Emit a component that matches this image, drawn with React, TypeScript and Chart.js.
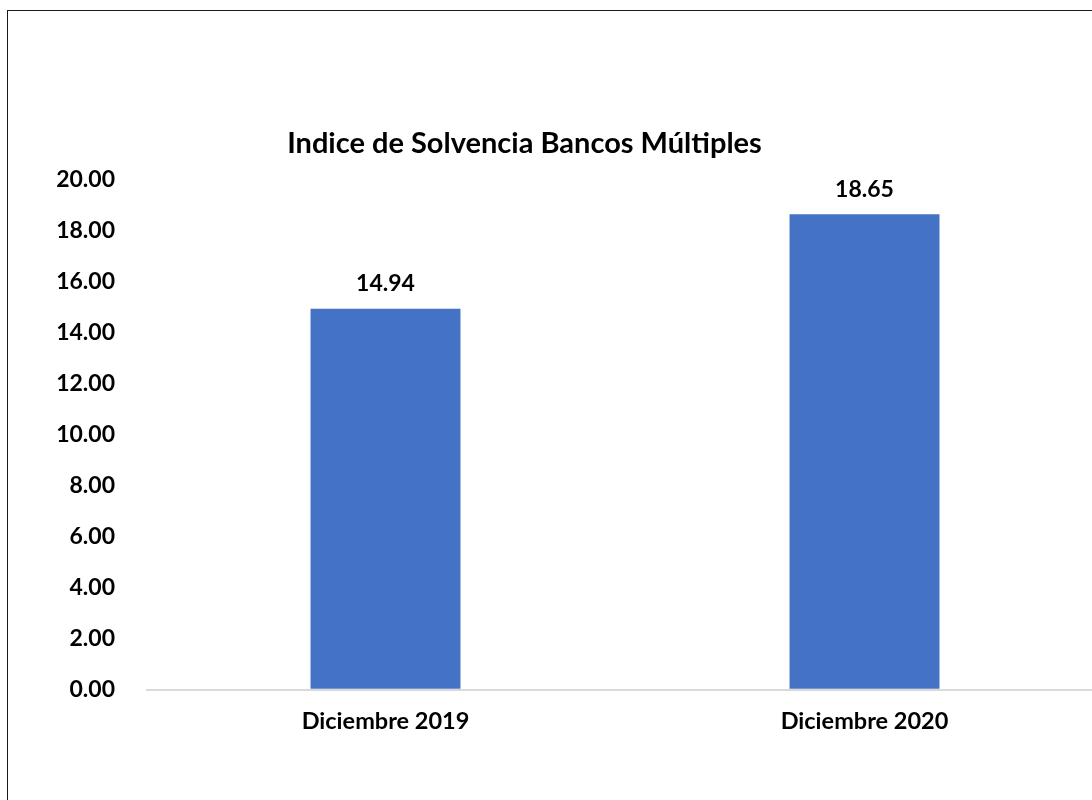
import React, { useEffect, useRef } from "react";
import { Chart, registerables } from "chart.js";

Chart.register(...registerables);

const chartTitle = "Indice de Solvencia Bancos Múltiples";
const categories = ["Diciembre 2019", "Diciembre 2020"];
const solvencia = [14.94, 18.65];
const yMin = 0;
const yMax = 20;
const yStep = 2;

const FONT = "Lato, 'Open Sans', sans-serif";
const BAR_COLOR = "#4472C4";
const TEXT_COLOR = "#000000";

const valueLabels = {
  id: "valueLabels",
  afterDatasetsDraw(chart: any) {
    const ctx = chart.ctx;
    ctx.save();
    ctx.font = `bold 23px ${FONT}`;
    ctx.fillStyle = TEXT_COLOR;
    ctx.textAlign = "center";
    ctx.textBaseline = "alphabetic";
    chart.data.datasets.forEach((ds: any, di: number) => {
      const meta = chart.getDatasetMeta(di);
      meta.data.forEach((bar: any, i: number) => {
        const v = ds.data[i] as number;
        ctx.fillText(v.toFixed(2), bar.x, bar.y - 17.5);
      });
    });
    ctx.restore();
  },
};

export default function App() {
  const ref = useRef<HTMLCanvasElement | null>(null);

  useEffect(() => {
    if (!ref.current) return;
    const chart = new Chart(ref.current, {
      type: "bar",
      data: {
        labels: categories,
        datasets: [
          {
            label: chartTitle,
            data: solvencia,
            backgroundColor: BAR_COLOR,
            borderWidth: 0,
            categoryPercentage: 1,
            barPercentage: 0.313,
          },
        ],
      },
      options: {
        responsive: false,
        animation: false,
        devicePixelRatio: 1,
        layout: { padding: { top: 126, bottom: 46, left: 0, right: 0 } },
        plugins: {
          legend: { display: false },
          tooltip: { enabled: false },
          title: {
            display: true,
            text: chartTitle,
            color: TEXT_COLOR,
            font: { family: FONT, size: 29, weight: "bold", lineHeight: 1.2 },
            padding: { top: 0, bottom: 19 },
          },
        },
        scales: {
          x: {
            grid: { display: false, drawTicks: false },
            border: { display: false },
            ticks: {
              color: TEXT_COLOR,
              padding: 18,
              font: { family: FONT, size: 23.5, weight: "bold", lineHeight: 1.2 },
            },
          },
          y: {
            min: yMin,
            max: yMax,
            afterFit: (scale: any) => {
              scale.width = 201;
            },
            grid: {
              drawTicks: false,
              lineWidth: 2,
              color: (c: any) => (c.tick && c.tick.value === 0 ? "#D9D9D9" : "rgba(0,0,0,0)"),
            },
            border: { display: false },
            ticks: {
              stepSize: yStep,
              color: TEXT_COLOR,
              padding: 31,
              font: { family: FONT, size: 23, weight: "bold", lineHeight: 1.2 },
              callback: (v: any) => Number(v).toFixed(2),
            },
          },
        },
      },
      plugins: [valueLabels],
    });
    return () => chart.destroy();
  }, []);

  return (
    <div
      style={{
        position: "fixed",
        left: 0,
        top: 0,
        width: 1092,
        height: 800,
        overflow: "hidden",
        background: "#ffffff",
      }}
    >
      <div
        style={{
          position: "absolute",
          left: 7,
          top: 10,
          width: 1200,
          height: 900,
          border: "1px solid #1a1a1a",
        }}
      />
      <canvas
        ref={ref}
        width={1159}
        height={800}
        style={{ position: "absolute", left: -55, top: 0, display: "block" }}
      />
    </div>
  );
}
